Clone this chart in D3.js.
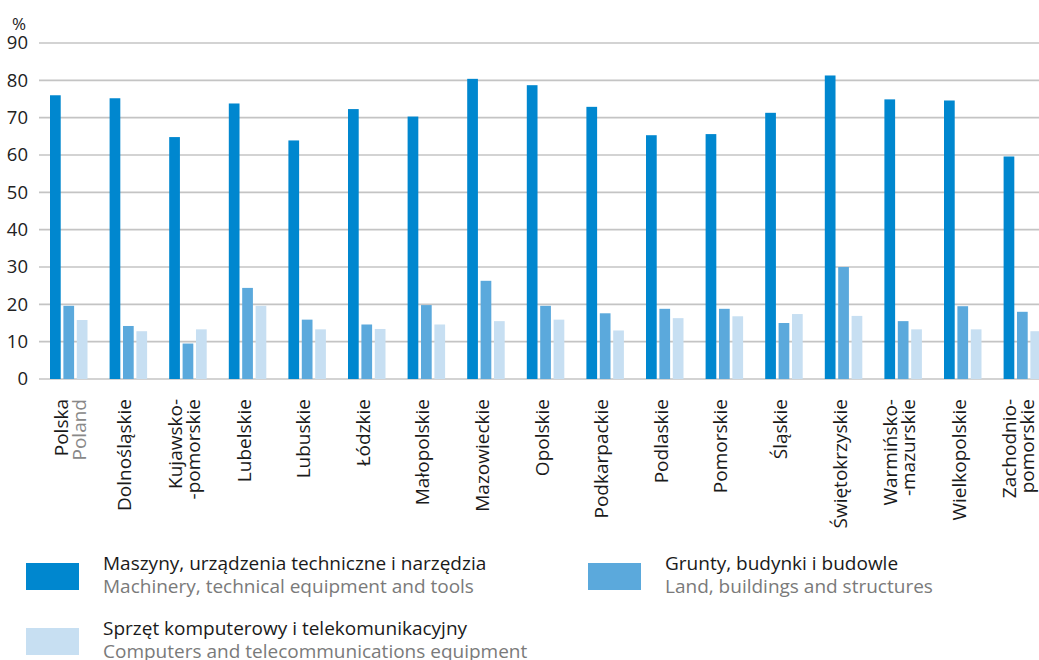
<!DOCTYPE html>
<html><head><meta charset="utf-8">
<script src="https://cdn.jsdelivr.net/npm/d3@7"></script>
<style>
body{margin:0;background:#fff;}
text{font-family:"Open Sans",sans-serif;}
</style></head>
<body>
<svg id="chart" width="1039" height="660"></svg>
<script>
const categories = ["Polska","Dolnośląskie","Kujawsko-pomorskie","Lubelskie","Lubuskie","Łódzkie","Małopolskie","Mazowieckie","Opolskie","Podkarpackie","Podlaskie","Pomorskie","Śląskie","Świętokrzyskie","Warmińsko-mazurskie","Wielkopolskie","Zachodniopomorskie"];
const categoryLabels = [["Polska","Poland"],["Dolnośląskie"],["Kujawsko-","-pomorskie"],["Lubelskie"],["Lubuskie"],["Łódzkie"],["Małopolskie"],["Mazowieckie"],["Opolskie"],["Podkarpackie"],["Podlaskie"],["Pomorskie"],["Śląskie"],["Świętokrzyskie"],["Warmińsko-","-mazurskie"],["Wielkopolskie"],["Zachodnio-","pomorskie"]];
const machinery = [76.0,75.2,64.8,73.8,63.9,72.3,70.3,80.4,78.7,72.9,65.3,65.6,71.3,81.3,74.9,74.6,59.6];
const land = [19.6,14.2,9.5,24.4,15.9,14.6,19.8,26.3,19.6,17.6,18.8,18.8,15.0,30.0,15.5,19.5,18.0];
const computers = [15.8,12.8,13.3,19.6,13.3,13.4,14.6,15.5,15.9,13.0,16.3,16.8,17.4,16.9,13.3,13.3,12.8];
const yTicks = [0,10,20,30,40,50,60,70,80,90];
const seriesKeys = ["machinery","land","computers"];
const seriesPL = ["Maszyny, urządzenia techniczne i narzędzia","Grunty, budynki i budowle","Sprzęt komputerowy i telekomunikacyjny"];
const seriesEN = ["Machinery, technical equipment and tools","Land, buildings and structures","Computers and telecommunications equipment"];
const colors = ["#0087cf","#5ba9dc","#c7dff2"];

const seriesData = {machinery, land, computers};
const svg = d3.select("#chart");
const left = 39, step = 59.6;
const x0 = d3.scaleBand().domain(categories).range([left, left + step*categories.length]).padding(0);
const x1 = d3.scaleBand().domain(seriesKeys).range([11, 48.5]).paddingInner(0.2).paddingOuter(0);
const y = d3.scaleLinear().domain([0,90]).range([379,43]);
const color = d3.scaleOrdinal().domain(seriesKeys).range(colors);

// gridlines
svg.append("g").selectAll("line").data(yTicks).join("line")
  .attr("x1", left).attr("x2", 1039)
  .attr("y1", d=>y(d)).attr("y2", d=>y(d))
  .attr("stroke", "#c4c4c4").attr("stroke-width", 1.6);

// y labels
svg.append("g").selectAll("text").data(yTicks).join("text")
  .attr("x", 28).attr("y", d=>y(d)).attr("dy","0.35em")
  .attr("text-anchor","end").attr("font-size",18.5).attr("fill","#222")
  .text(d=>d);
svg.append("text").attr("x",19).attr("y",29.5).attr("text-anchor","middle")
  .attr("font-size",17).attr("fill","#222").text("%");

// bars
const groups = svg.append("g").selectAll("g").data(categories).join("g")
  .attr("transform", c=>`translate(${x0(c)},0)`);
groups.selectAll("rect").data((c,i)=>seriesKeys.map(k=>({k, v: seriesData[k][i]}))).join("rect")
  .attr("x", d=>x1(d.k)).attr("width", x1.bandwidth())
  .attr("y", d=>y(d.v)).attr("height", d=>y(0)-y(d.v))
  .attr("fill", d=>color(d.k));

// x labels
const lab = svg.append("g").selectAll("text").data(categories).join("text")
  .attr("transform", c=>`translate(${x0(c)+x0.bandwidth()/2},399) rotate(-90)`)
  .attr("text-anchor","end").attr("font-size",19).attr("fill","#1a1a1a");
lab.each(function(c,i){
  const lines = categoryLabels[i];
  const t = d3.select(this);
  if(lines.length===1){
    t.append("tspan").attr("x",0).attr("y",3).text(lines[0]);
  } else {
    const off = i===0 ? [-1,17] : [-6,12];
    lines.forEach((l,j)=>{
      t.append("tspan").attr("x",0).attr("y", off[j])
        .attr("fill", (i===0 && j===1) ? "#888" : "#1a1a1a").text(l);
    });
  }
});

// legend
const legendPos = [[26,563],[588,563],[26,628]];
const lg = svg.append("g").selectAll("g").data(seriesKeys).join("g")
  .attr("transform",(d,i)=>`translate(${legendPos[i][0]},${legendPos[i][1]})`);
lg.append("rect").attr("width",53).attr("height",27).attr("fill",d=>color(d));
lg.append("text").attr("x",77).attr("y",7).attr("font-size",19).attr("fill","#1a1a1a")
  .text((d,i)=>seriesPL[i]);
lg.append("text").attr("x",77).attr("y",30).attr("font-size",19).attr("fill","#7a7a7a")
  .text((d,i)=>seriesEN[i]);
</script>
</body></html>
